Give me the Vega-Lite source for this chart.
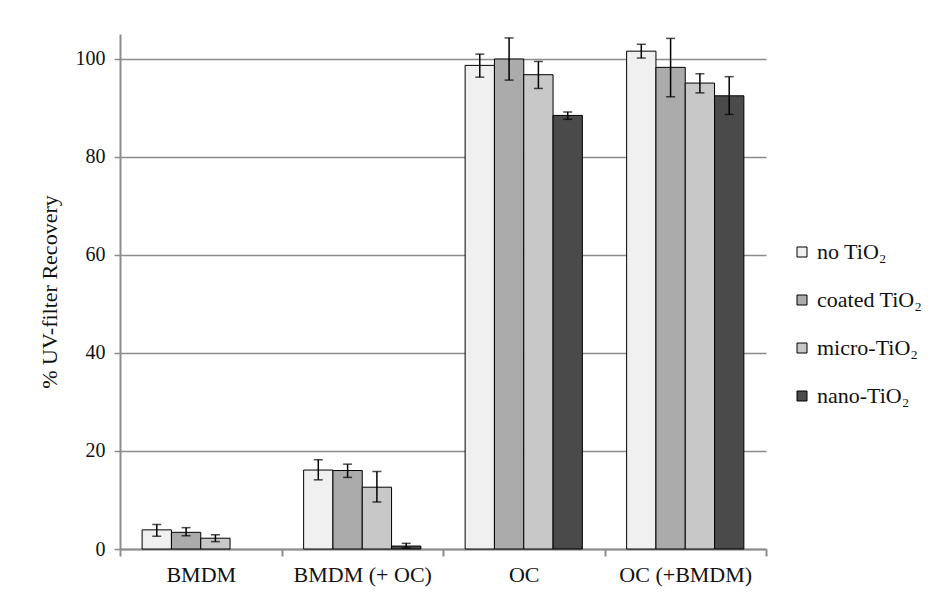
{
  "$schema": "https://vega.github.io/schema/vega-lite/v6.json",
  "width": 646,
  "height": 515,
  "autosize": "none",
  "padding": {"left": 120, "top": 34, "right": 166, "bottom": 47},
  "background": "white",
  "config": {"view": {"stroke": null}, "font": "Liberation Serif"},
  "data": {
    "values": [
      {"sample": "BMDM", "treatment": "no TiO₂", "value": 3.9, "lo": 2.6, "hi": 5.0},
      {"sample": "BMDM", "treatment": "coated TiO₂", "value": 3.4, "lo": 2.7, "hi": 4.35},
      {"sample": "BMDM", "treatment": "micro-TiO₂", "value": 2.2, "lo": 1.5, "hi": 2.9},
      {"sample": "BMDM (+ OC)", "treatment": "no TiO₂", "value": 16.1, "lo": 14.1, "hi": 18.2},
      {"sample": "BMDM (+ OC)", "treatment": "coated TiO₂", "value": 16.0, "lo": 14.6, "hi": 17.3},
      {"sample": "BMDM (+ OC)", "treatment": "micro-TiO₂", "value": 12.6, "lo": 9.6, "hi": 15.8},
      {"sample": "BMDM (+ OC)", "treatment": "nano-TiO₂", "value": 0.6, "lo": 0.2, "hi": 1.15},
      {"sample": "OC", "treatment": "no TiO₂", "value": 98.6, "lo": 96.2, "hi": 100.9},
      {"sample": "OC", "treatment": "coated TiO₂", "value": 99.9, "lo": 95.6, "hi": 104.2},
      {"sample": "OC", "treatment": "micro-TiO₂", "value": 96.7, "lo": 93.9, "hi": 99.4},
      {"sample": "OC", "treatment": "nano-TiO₂", "value": 88.4, "lo": 87.6, "hi": 89.1},
      {"sample": "OC (+BMDM)", "treatment": "no TiO₂", "value": 101.5, "lo": 100.1, "hi": 102.9},
      {"sample": "OC (+BMDM)", "treatment": "coated TiO₂", "value": 98.2, "lo": 92.2, "hi": 104.1},
      {"sample": "OC (+BMDM)", "treatment": "micro-TiO₂", "value": 95.0, "lo": 93.0, "hi": 96.9},
      {"sample": "OC (+BMDM)", "treatment": "nano-TiO₂", "value": 92.4, "lo": 88.6, "hi": 96.3}
    ]
  },
  "encoding": {
    "x": {
      "field": "sample", "type": "nominal",
      "sort": ["BMDM", "BMDM (+ OC)", "OC", "OC (+BMDM)"],
      "scale": {"paddingInner": 0, "paddingOuter": 0},
      "axis": {
        "title": null, "labelAngle": 0, "tickBand": "extent",
        "domainColor": "#8c8c8c", "domainWidth": 2, "tickColor": "#8c8c8c", "tickWidth": 2, "tickSize": 7,
        "labelFontSize": 22, "labelColor": "#111", "labelPadding": 8, "labelFont": "Liberation Serif"
      }
    },
    "xOffset": {
      "field": "treatment", "type": "nominal",
      "scale": {"domain": ["no TiO₂", "coated TiO₂", "micro-TiO₂", "nano-TiO₂"], "paddingOuter": 0.755, "paddingInner": 0}
    }
  },
  "layer": [
    {
      "mark": {"type": "bar", "stroke": "black", "strokeWidth": 1},
      "encoding": {
        "y": {
          "field": "value", "type": "quantitative", "title": "% UV-filter Recovery",
          "scale": {"domain": [0, 105], "nice": false},
          "axis": {
            "values": [0, 20, 40, 60, 80, 100], "grid": true, "gridColor": "#8c8c8c", "gridWidth": 1.5,
            "domainColor": "#8c8c8c", "domainWidth": 2, "tickColor": "#8c8c8c", "tickWidth": 1.5, "tickSize": 6,
            "labelFontSize": 20, "labelColor": "#111", "labelPadding": 9, "labelFont": "Liberation Serif",
            "titleFontSize": 22, "titleFontWeight": "normal", "titleColor": "#111", "titleFont": "Liberation Serif", "titlePadding": 14
          }
        },
        "fill": {
          "field": "treatment", "type": "nominal",
          "scale": {"domain": ["no TiO₂", "coated TiO₂", "micro-TiO₂", "nano-TiO₂"], "range": ["#f0f0f0", "#ababab", "#c8c8c8", "#4a4a4a"]},
          "legend": {
            "title": null, "orient": "none", "legendX": 671, "legendY": 207,
            "symbolType": "square", "symbolSize": 100, "symbolStrokeColor": "black", "symbolStrokeWidth": 1,
            "labelFontSize": 22, "labelColor": "#111", "labelFont": "Liberation Serif", "rowPadding": 26, "labelOffset": 4
          }
        }
      }
    },
    {
      "mark": {"type": "rule", "color": "black", "strokeWidth": 1.5},
      "encoding": {
        "y": {"field": "lo", "type": "quantitative", "title": "% UV-filter Recovery"},
        "y2": {"field": "hi"}
      }
    },
    {
      "mark": {"type": "tick", "color": "black", "size": 9, "thickness": 1.5},
      "encoding": {"y": {"field": "lo", "type": "quantitative", "title": "% UV-filter Recovery"}}
    },
    {
      "mark": {"type": "tick", "color": "black", "size": 9, "thickness": 1.5},
      "encoding": {"y": {"field": "hi", "type": "quantitative", "title": "% UV-filter Recovery"}}
    }
  ]
}
